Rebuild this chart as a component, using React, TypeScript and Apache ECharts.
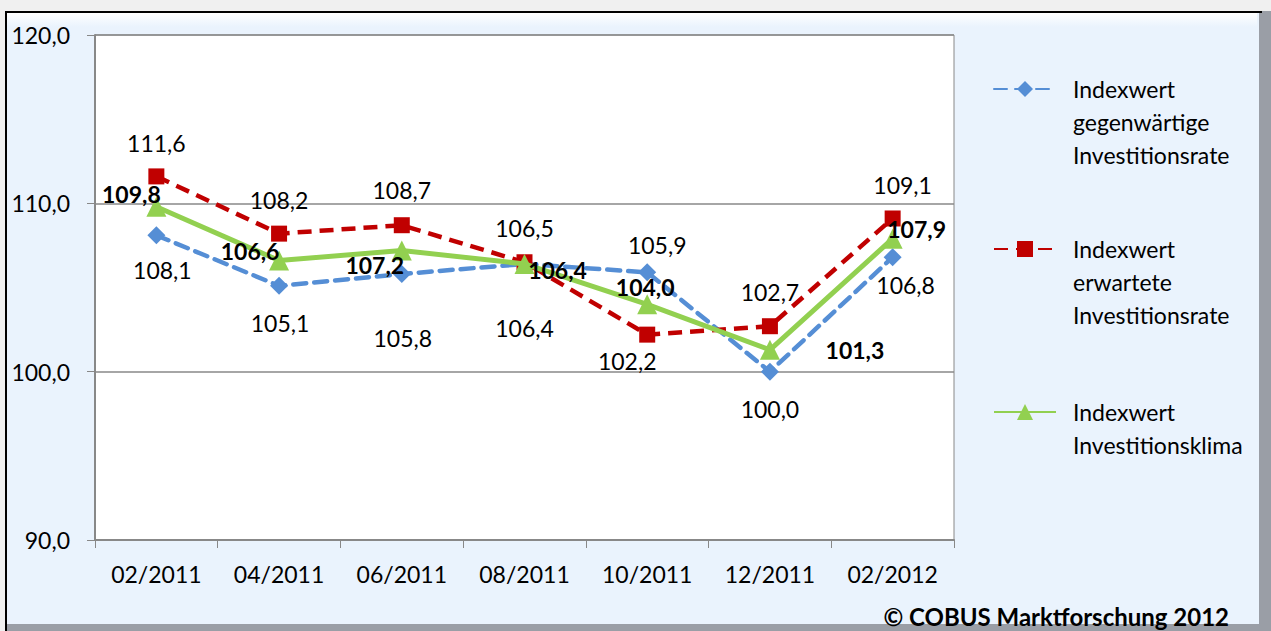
import React, { useEffect, useRef } from "react";
import * as echarts from "echarts";

const categories = ["02/2011", "04/2011", "06/2011", "08/2011", "10/2011", "12/2011", "02/2012"];
const gegenwaertig = [108.1, 105.1, 105.8, 106.4, 105.9, 100.0, 106.8];
const erwartet = [111.6, 108.2, 108.7, 106.5, 102.2, 102.7, 109.1];
const klima = [109.8, 106.6, 107.2, 106.4, 104.0, 101.3, 107.9];
const seriesNames = [
  "Indexwert\ngegenwärtige\nInvestitionsrate",
  "Indexwert\nerwartete\nInvestitionsrate",
  "Indexwert\nInvestitionsklima",
];
const copyright = "© COBUS Marktforschung 2012";

// label offsets (layout only)
const blueOffsets = [[6, 35], [1, 37], [1, 64], [0, 64], [10, -27], [0, 37], [13, 28]];
const redOffsets = [[0, -33], [0, -34], [0, -35], [0, -34], [-20, 26], [0, -34], [10, -33]];
const greenOffsets = [[-25, -13], [-29, -10], [-27, 15], [33, 6], [-2, -17], [85, 0], [24, -10]];

const FONT = "Lato";
const fmt = (v: number) => v.toFixed(1).replace(".", ",");

function mkData(vals: number[], offs: number[][], bold: boolean) {
  return vals.map((v, i) => ({
    value: v,
    label: {
      show: true,
      position: "inside" as const,
      offset: offs[i],
      formatter: () => fmt(v),
      fontFamily: FONT,
      fontSize: 23,
      fontWeight: bold ? ("bold" as const) : ("normal" as const),
      color: "#000",
    },
  }));
}

// put the first line of a multi-line legend name level with its icon
const legendFormatter = (name: string) => {
  const n = name.split("\n").length;
  return "\n".repeat(n - 1) + name;
};

export default function App() {
  const ref = useRef<HTMLDivElement>(null);
  useEffect(() => {
    if (!ref.current) return;
    const chart = echarts.init(ref.current, undefined, { renderer: "svg" });
    const legendText = {
      fontFamily: FONT,
      fontSize: 23,
      lineHeight: 33,
      color: "#000",
      padding: [0, 0, 0, 12],
    };
    const legendBase = {
      orient: "vertical" as const,
      left: 988,
      itemWidth: 62,
      itemHeight: 20,
      selectedMode: false,
      formatter: legendFormatter,
      textStyle: legendText,
    };
    chart.setOption({
      animation: false,
      backgroundColor: "#f0f0f0",
      graphic: [
        {
          type: "rect",
          shape: { x: 5, y: 11, width: 1266, height: 620 },
          style: { fill: "#9a9ea6" },
          z: -10,
          silent: true,
        },
        {
          type: "rect",
          shape: { x: 5, y: 11, width: 1254, height: 613 },
          style: { fill: "#eaf3fd" },
          z: -9,
          silent: true,
        },
        {
          type: "rect",
          shape: { x: 7, y: 13, width: 1250, height: 14 },
          style: {
            fill: {
              type: "linear", x: 0, y: 0, x2: 0, y2: 1,
              colorStops: [
                { offset: 0, color: "#ffffff" },
                { offset: 1, color: "#eaf3fd" },
              ],
            },
          },
          z: -8,
          silent: true,
        },
        {
          type: "line",
          shape: { x1: 5, y1: 12, x2: 1262, y2: 12 },
          style: { stroke: "#000", lineWidth: 2 },
          z: -7,
          silent: true,
        },
        {
          type: "line",
          shape: { x1: 6, y1: 11, x2: 6, y2: 631 },
          style: { stroke: "#000", lineWidth: 2 },
          z: -7,
          silent: true,
        },
        {
          type: "text",
          right: 1271 - 1229,
          top: 604,
          style: {
            text: copyright,
            font: `bold 24px ${FONT}`,
            fill: "#000",
          },
          silent: true,
        },
      ],
      grid: {
        left: 95,
        right: 1271 - 954,
        top: 35,
        bottom: 631 - 540,
        show: true,
        backgroundColor: "#ffffff",
        borderColor: "#888888",
        borderWidth: 1,
      },
      xAxis: {
        type: "category",
        data: categories,
        boundaryGap: true,
        axisLine: { lineStyle: { color: "#888888", width: 2 } },
        axisTick: { show: true, length: 8, lineStyle: { color: "#888888" }, alignWithLabel: false },
        axisLabel: { fontFamily: FONT, fontSize: 23, color: "#000", margin: 22 },
      },
      yAxis: {
        type: "value",
        min: 90,
        max: 120,
        interval: 10,
        axisLine: { show: true, lineStyle: { color: "#888888", width: 2 } },
        axisTick: { show: true, length: 8, lineStyle: { color: "#888888" } },
        splitLine: { lineStyle: { color: "#888888", width: 1.5 } },
        axisLabel: {
          fontFamily: FONT,
          fontSize: 23,
          color: "#000",
          margin: 25,
          formatter: (v: number) => fmt(v),
        },
      },
      legend: [
        { ...legendBase, top: 1.5, data: [seriesNames[0]] },
        { ...legendBase, top: 161.5, data: [seriesNames[1]] },
        { ...legendBase, top: 357.5, data: [seriesNames[2]] },
      ],
      series: [
        {
          name: seriesNames[0],
          type: "line",
          data: mkData(gegenwaertig, blueOffsets, false),
          symbol: "diamond",
          symbolSize: 18,
          itemStyle: { color: "#558ED5" },
          lineStyle: { color: "#558ED5", width: 4.5, type: [13, 8], cap: "round" },
          z: 2,
        },
        {
          name: seriesNames[1],
          type: "line",
          data: mkData(erwartet, redOffsets, false),
          symbol: "rect",
          symbolSize: 16,
          itemStyle: { color: "#C00000" },
          lineStyle: { color: "#C00000", width: 4.5, type: [14, 8] },
          z: 3,
        },
        {
          name: seriesNames[2],
          type: "line",
          data: mkData(klima, greenOffsets, true),
          symbol: "triangle",
          symbolSize: 20,
          itemStyle: { color: "#92D050" },
          lineStyle: { color: "#92D050", width: 5 },
          z: 4,
        },
      ],
    });
    return () => chart.dispose();
  }, []);
  return (
    <div
      ref={ref}
      style={{ position: "absolute", left: 0, top: 0, width: 1271, height: 631 }}
    />
  );
}
